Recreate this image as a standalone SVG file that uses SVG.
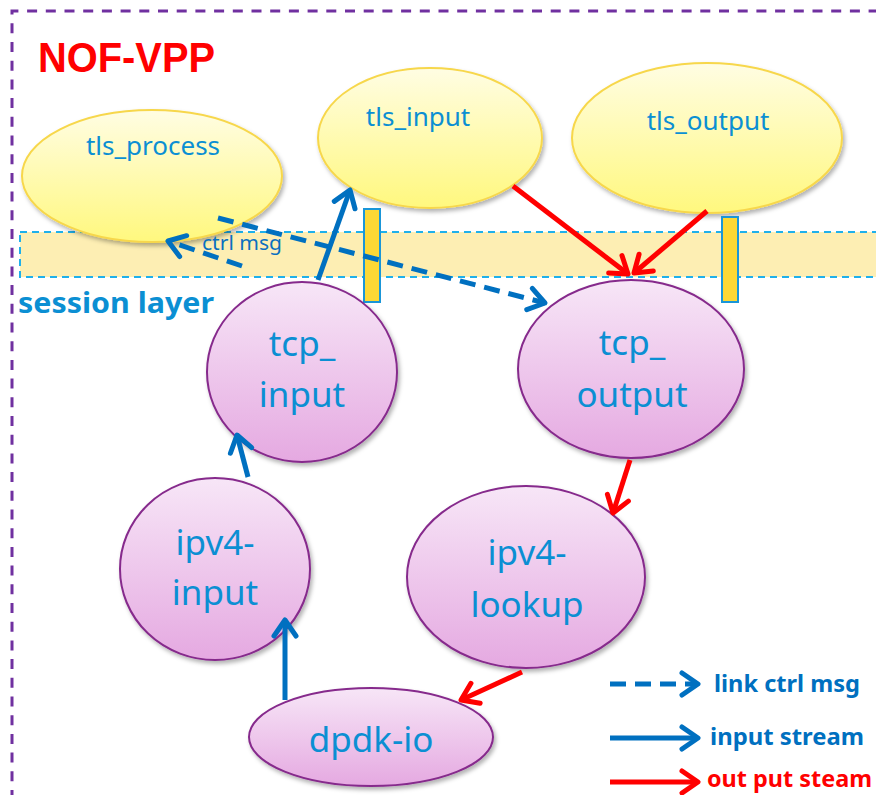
<svg xmlns="http://www.w3.org/2000/svg" width="876" height="795" viewBox="0 0 876 795">
<defs>
<linearGradient id="gy" x1="0" y1="0" x2="0" y2="1"><stop offset="0" stop-color="#fffde3"/><stop offset="1" stop-color="#fff87e"/></linearGradient>
<linearGradient id="gp" x1="0" y1="0" x2="0" y2="1"><stop offset="0" stop-color="#f7e6f7"/><stop offset="1" stop-color="#e5a9e1"/></linearGradient>
<filter id="sh" x="-10%" y="-10%" width="125%" height="130%"><feDropShadow dx="2" dy="3" stdDeviation="2" flood-color="#000" flood-opacity="0.3"/></filter>
<marker id="ab" markerWidth="10" markerHeight="10" refX="7" refY="5" orient="auto" markerUnits="userSpaceOnUse" viewBox="0 0 10 10" overflow="visible"><path d="M-9,-6 L7,5 L-9,16" fill="none" stroke="#0070c0" stroke-width="5" stroke-linecap="round" stroke-linejoin="round"/></marker>
<marker id="ar" markerWidth="10" markerHeight="10" refX="7" refY="5" orient="auto" markerUnits="userSpaceOnUse" viewBox="0 0 10 10" overflow="visible"><path d="M-9,-6 L7,5 L-9,16" fill="none" stroke="#ff0000" stroke-width="5" stroke-linecap="round" stroke-linejoin="round"/></marker>
</defs>
<style>
.y{fill:url(#gy);stroke:#f7d74c;stroke-width:2;filter:url(#sh)}
.p{fill:url(#gp);stroke:#862a8c;stroke-width:2;filter:url(#sh)}
.t{font-family:"Noto Sans","Open Sans",sans-serif;fill:#0b8fd3;text-anchor:middle}
.ts{font-size:26px}
.tb{font-size:35px}
.bl{stroke:#0070c0;stroke-width:5;fill:none}
.rd{stroke:#ff0000;stroke-width:5;fill:none}
.ds{stroke-dasharray:16,9}
.lg{font-family:"Noto Sans","Open Sans",sans-serif;font-weight:bold;font-size:23px}
</style>
<rect x="0" y="0" width="876" height="795" fill="#fff"/>
<path d="M12,800 L12,11 L880,11" fill="none" stroke="#7030a0" stroke-width="3" stroke-dasharray="10,8.7"/>
<text x="38" y="72" font-family="'Liberation Sans',Arial,sans-serif" font-weight="bold" font-size="42" fill="#ff0000" textLength="177" lengthAdjust="spacingAndGlyphs">NOF-VPP</text>

<g id="session-layer">
<rect x="20" y="232" width="860" height="45" fill="#fdeeb3" stroke="#1fb0ea" stroke-width="2" stroke-dasharray="7,5"/>
<text x="18" y="313" font-family="'Noto Sans','Open Sans',sans-serif" font-weight="bold" font-size="28" fill="#0b8fd3" textLength="196" lengthAdjust="spacingAndGlyphs">session layer</text>
</g>

<g id="tls_process"><ellipse class="y" cx="152" cy="176" rx="130" ry="66"/><text class="t ts" x="153" y="155">tls_process</text></g>
<g id="tls_input"><ellipse class="y" cx="430" cy="138" rx="112" ry="70"/><text class="t ts" x="418" y="126">tls_input</text></g>
<g id="tls_output"><ellipse class="y" cx="707" cy="138" rx="135" ry="75"/><text class="t ts" x="708" y="130">tls_output</text></g>

<g id="bar1"><rect x="364" y="209" width="16" height="93" fill="#fdd835" stroke="#1a96d8" stroke-width="2"/></g>
<g id="bar2"><rect x="722" y="217" width="16" height="85" fill="#fdd835" stroke="#1a96d8" stroke-width="2"/></g>

<g id="tcp_input"><ellipse class="p" cx="302" cy="372" rx="95" ry="90"/><text class="t tb" x="302" y="356">tcp_</text><text class="t tb" x="302" y="407">input</text></g>
<g id="tcp_output"><ellipse class="p" cx="631" cy="369" rx="113" ry="89"/><text class="t tb" x="632" y="355">tcp_</text><text class="t tb" x="632" y="407">output</text></g>
<g id="ipv4-input"><ellipse class="p" cx="215" cy="569" rx="95" ry="91"/><text class="t tb" x="215" y="555">ipv4-</text><text class="t tb" x="215" y="605">input</text></g>
<g id="ipv4-lookup"><ellipse class="p" cx="526" cy="577" rx="119" ry="91"/><text class="t tb" x="527" y="565">ipv4-</text><text class="t tb" x="527" y="617">lookup</text></g>
<g id="dpdk-io"><ellipse class="p" cx="371" cy="737" rx="122" ry="49"/><text class="t tb" x="371" y="752">dpdk-io</text></g>

<g id="connectors">
<line class="bl" x1="318" y1="280" x2="350" y2="190" marker-end="url(#ab)"/>
<line class="bl ds" x1="218" y1="218" x2="545" y2="303" marker-end="url(#ab)"/>
<line class="bl ds" x1="242" y1="266" x2="168" y2="241" marker-end="url(#ab)"/>
<text x="202" y="250" font-family="'Noto Sans','Open Sans',sans-serif" font-size="19" fill="#0b70c0" textLength="80" lengthAdjust="spacingAndGlyphs">ctrl msg</text>
<line class="rd" x1="513" y1="186" x2="628" y2="274" marker-end="url(#ar)"/>
<line class="rd" x1="707" y1="211" x2="634" y2="273" marker-end="url(#ar)"/>
<line class="rd" x1="630" y1="460" x2="613" y2="513" marker-end="url(#ar)"/>
<line class="rd" x1="522" y1="672" x2="461" y2="700" marker-end="url(#ar)"/>
<line class="bl" x1="285" y1="700" x2="285" y2="620" marker-end="url(#ab)"/>
<line class="bl" x1="248" y1="477" x2="237" y2="435" marker-end="url(#ab)"/>
</g>

<g id="legend">
<line class="bl ds" x1="610" y1="684" x2="698" y2="684" marker-end="url(#ab)"/>
<text class="lg" x="714" y="692" fill="#0070c0" textLength="146" lengthAdjust="spacingAndGlyphs">link ctrl msg</text>
<line class="bl" x1="610" y1="738" x2="698" y2="738" marker-end="url(#ab)"/>
<text class="lg" x="710" y="745" fill="#0070c0" textLength="154" lengthAdjust="spacingAndGlyphs">input stream</text>
<line class="rd" x1="610" y1="782" x2="698" y2="782" marker-end="url(#ar)"/>
<text class="lg" x="707" y="787" fill="#ff0000" textLength="165" lengthAdjust="spacingAndGlyphs">out put steam</text>
</g>
</svg>
